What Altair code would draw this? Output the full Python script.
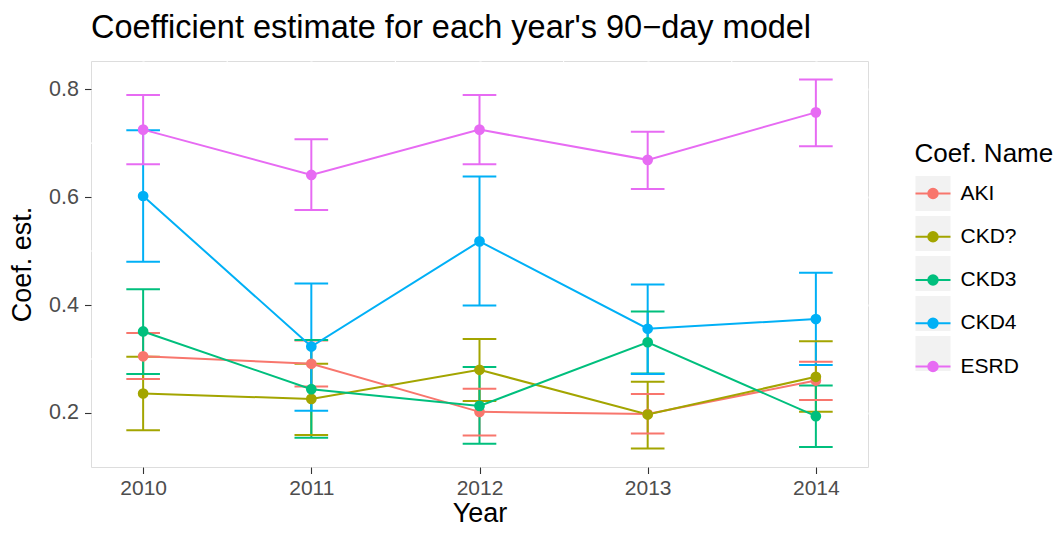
import altair as alt
import pandas as pd

# ---------------- data ----------------
years = [2010, 2011, 2012, 2013, 2014]
coef_names = ["AKI", "CKD?", "CKD3", "CKD4", "ESRD"]
hue_colors = ["#F8766D", "#A3A500", "#00BF7D", "#00B0F6", "#E76BF3"]

aki_est = [0.305, 0.291, 0.202, 0.198, 0.260]
aki_lo = [0.263, 0.249, 0.158, 0.162, 0.224]
aki_hi = [0.348, 0.334, 0.245, 0.235, 0.295]

ckdq_est = [0.236, 0.226, 0.280, 0.197, 0.267]
ckdq_lo = [0.168, 0.159, 0.222, 0.134, 0.202]
ckdq_hi = [0.304, 0.291, 0.337, 0.258, 0.333]

ckd3_est = [0.351, 0.244, 0.213, 0.331, 0.194]
ckd3_lo = [0.272, 0.154, 0.143, 0.273, 0.137]
ckd3_hi = [0.429, 0.335, 0.285, 0.388, 0.251]

ckd4_est = [0.602, 0.323, 0.518, 0.356, 0.374]
ckd4_lo = [0.480, 0.204, 0.399, 0.272, 0.289]
ckd4_hi = [0.724, 0.440, 0.638, 0.438, 0.460]

esrd_est = [0.725, 0.641, 0.725, 0.669, 0.757]
esrd_lo = [0.661, 0.576, 0.661, 0.615, 0.694]
esrd_hi = [0.789, 0.707, 0.789, 0.721, 0.818]

x_ticks = [2010, 2011, 2012, 2013, 2014]
x_minor = [2010.5, 2011.5, 2012.5, 2013.5]
y_ticks = [0.2, 0.4, 0.6, 0.8]
y_minor = [0.3, 0.5, 0.7]

title_text = "Coefficient estimate for each year's 90\u2212day model"

series = [
    ("AKI", aki_est, aki_lo, aki_hi),
    ("CKD?", ckdq_est, ckdq_lo, ckdq_hi),
    ("CKD3", ckd3_est, ckd3_lo, ckd3_hi),
    ("CKD4", ckd4_est, ckd4_lo, ckd4_hi),
    ("ESRD", esrd_est, esrd_lo, esrd_hi),
]
rows = []
for nm, e, l, h in series:
    for yr, ev, lv, hv in zip(years, e, l, h):
        rows.append({"year": yr, "name": nm, "key": nm, "est": ev, "lo": lv, "hi": hv})
df = pd.DataFrame(rows)

# ---------------- styling ----------------
FONT = "Liberation Sans"
W, H = 777, 406
LINE_W = 2

x_scale = alt.Scale(domain=[2009.69, 2014.31], nice=False, zero=False)
y_scale = alt.Scale(domain=[0.0998, 0.8522], nice=False, zero=False)

x_axis = alt.Axis(
    values=x_ticks, format="d", title="Year", grid=True, gridColor="white",
    gridWidth=2.2, domain=False, tickColor="#333333", tickSize=6.5, tickWidth=1.1,
    labelColor="#4D4D4D", labelFontSize=21, labelFont=FONT, labelPadding=4,
    titleFont=FONT, titleFontSize=27, titleFontWeight="normal", titleColor="black",
    titleX=W / 2, titleY=54, titleBaseline="alphabetic", titleAlign="center",
)
y_axis = alt.Axis(
    values=y_ticks, format=".1f", title="Coef. est.", grid=True, gridColor="white",
    gridWidth=2.2, domain=False, tickColor="#333333", tickSize=6.5, tickWidth=1.1,
    labelColor="#4D4D4D", labelFontSize=21.5, labelFont=FONT, labelPadding=6,
    titleFont=FONT, titleFontSize=27, titleFontWeight="normal", titleColor="black",
    titleX=-61, titleY=H / 2, titleBaseline="alphabetic", titleAlign="center", titleAngle=270,
)

color_scale = alt.Scale(domain=coef_names, range=hue_colors)

# legend key: line with dot; invisible moves give it the same box as the grey key
sym_path = ("M0,-1.086M0,1.086M-1,0L1,0"
            "M-0.27,0A0.27,0.27,0,1,1,0.27,0A0.27,0.27,0,1,1,-0.27,0Z")
box_path = "M-1.086,-1.086L1.086,-1.086L1.086,1.086L-1.086,1.086Z"

LEG_X, LEG_Y, ROW_PAD = 823.5, 80, -3.75

color_legend = alt.Legend(
    title="Coef. Name", orient="none", legendX=LEG_X, legendY=LEG_Y,
    titleFont=FONT, titleFontSize=26, titleFontWeight="normal", titleColor="black",
    titlePadding=8, labelFont=FONT, labelFontSize=21, labelColor="black",
    labelOffset=9, symbolType=sym_path, symbolSize=1225, symbolStrokeWidth=2,
    symbolOpacity=1, rowPadding=ROW_PAD, padding=0, zindex=1,
)
box_legend = alt.Legend(
    title=" ", orient="none", legendX=LEG_X, legendY=LEG_Y,
    titleFont=FONT, titleFontSize=26, titleFontWeight="normal",
    titlePadding=8, labelFont=FONT, labelFontSize=21, labelExpr="''",
    labelOffset=9, symbolType=box_path, symbolSize=1225, symbolFillColor="#F2F2F2",
    symbolStrokeColor="#F2F2F2", symbolStrokeWidth=2, symbolOpacity=1,
    rowPadding=ROW_PAD, padding=0, zindex=0,
)

X = alt.X("year:Q", scale=x_scale, axis=x_axis)
C = alt.Color("name:N", scale=color_scale, legend=color_legend)

minor_x = alt.Chart(pd.DataFrame({"year": x_minor})).mark_rule(
    color="white", strokeWidth=1.1
).encode(x=X)

minor_y = alt.Chart(pd.DataFrame({"est": y_minor})).mark_rule(
    color="white", strokeWidth=1.1
).encode(y=alt.Y("est:Q", scale=y_scale, axis=y_axis))

base = alt.Chart(df)

err_v = base.mark_rule(strokeWidth=LINE_W).encode(
    x=X, y=alt.Y("lo:Q", scale=y_scale, axis=y_axis), y2="hi:Q", color=C
)
caps = base.transform_calculate(
    xl="datum.year - 0.1", xr="datum.year + 0.1"
)
cap_lo = caps.mark_rule(strokeWidth=LINE_W).encode(
    x=alt.X("xl:Q", scale=x_scale, axis=x_axis), x2="xr:Q",
    y=alt.Y("lo:Q", scale=y_scale, axis=y_axis), color=C
)
cap_hi = caps.mark_rule(strokeWidth=LINE_W).encode(
    x=alt.X("xl:Q", scale=x_scale, axis=x_axis), x2="xr:Q",
    y=alt.Y("hi:Q", scale=y_scale, axis=y_axis), color=C
)
lines = base.mark_line(strokeWidth=LINE_W).encode(
    x=X, y=alt.Y("est:Q", scale=y_scale, axis=y_axis), color=C,
    order="year:Q"
)
points = base.mark_circle(size=115, opacity=1).encode(
    x=X, y=alt.Y("est:Q", scale=y_scale, axis=y_axis), color=C
)
# layer that draws nothing; its legend only paints the grey key backgrounds
boxes = base.transform_filter("false").mark_point(
    filled=True, color="#F2F2F2"
).encode(
    x=X, y=alt.Y("est:Q", scale=y_scale, axis=y_axis),
    shape=alt.Shape("key:N", scale=alt.Scale(
        domain=["AKI", "CKD3", "CKD4", "CKD?", "ESRD"], range=["square"] * 5),
        legend=box_legend)
)

chart = alt.layer(
    minor_x, minor_y, err_v, cap_lo, cap_hi, lines, points, boxes
).properties(
    width=W, height=H,
    title=alt.Title(title_text, anchor="start", frame="group", font=FONT,
                    fontSize=32.5, fontWeight="normal", color="black",
                    baseline="alphabetic", offset=23, dy=33),
    autosize=alt.AutoSizeParams(type="none"),
    padding={"left": 83, "top": 53, "right": 188, "bottom": 60},
).configure_view(
    fill="#EBEBEB", strokeWidth=0, stroke="transparent"
).configure(background="white")

chart.save("out.html", embed_options={"renderer": "svg", "actions": False})
